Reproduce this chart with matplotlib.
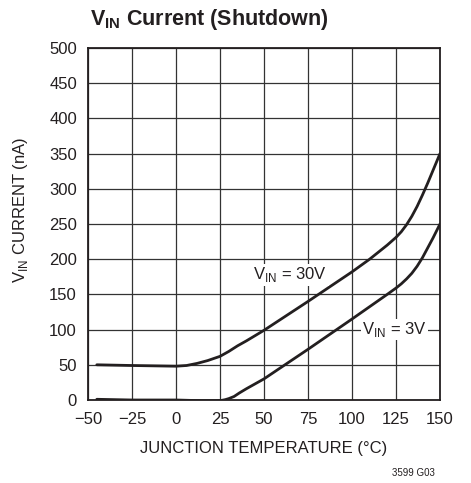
import matplotlib
matplotlib.use("Agg")
import matplotlib.pyplot as plt

plt.rcParams['font.family'] = ['Liberation Sans Narrow', 'Liberation Sans', 'DejaVu Sans']

# junction temperature (C) vs V_IN shutdown current (nA)
t_30v = [-45, -25, 0, 6, 12, 18, 25, 30, 35, 40, 50, 75, 100, 110, 115, 120, 125, 128, 131,
         134, 137, 140, 143, 146, 150]
i_30v = [50, 49, 48, 49, 52, 56, 62, 69, 77, 84, 99, 140, 182, 200, 210, 220, 231, 239, 249,
         261, 275, 291, 308, 326, 350]

t_3v = [-45, -25, 0, 15, 22, 26, 28, 30, 33, 36, 40, 45, 50, 75, 100, 120, 125, 128, 131,
        134, 137, 140, 143, 146, 148, 150]
i_3v = [1, 0, 0, -1, -1, -0.5, 0.5, 2, 5, 10, 16, 23, 30, 72, 115, 150, 159, 165, 172,
        180, 190, 202, 216, 230, 240, 250]

x_ticks = [-50, -25, 0, 25, 50, 75, 100, 125, 150]
x_labels = ['\u221250', '\u221225', '0', '25', '50', '75', '100', '125', '150']
y_ticks = [0, 50, 100, 150, 200, 250, 300, 350, 400, 450, 500]

ink = '#231f20'

fig = plt.figure(figsize=(4.71, 4.83), dpi=100)
ax = fig.add_axes([88 / 471, 1 - 400 / 483, 352 / 471, 352 / 483])

ax.plot(t_30v, i_30v, color=ink, lw=2.0, solid_capstyle='round', zorder=3)
ax.plot(t_3v, i_3v, color=ink, lw=2.0, solid_capstyle='round', zorder=3)

ax.set_xlim(-50, 150)
ax.set_ylim(0, 500)
ax.set_xticks(x_ticks, labels=x_labels)
ax.set_yticks(y_ticks)
ax.tick_params(length=0, labelsize=12, colors=ink)
ax.tick_params(axis='x', pad=9)
ax.tick_params(axis='y', pad=8)
ax.grid(True, color='#333333', lw=0.9)
for s in ax.spines.values():
    s.set_linewidth(1.3)
    s.set_color(ink)

ax.text(65, 178, r'V$_{\mathregular{IN}}$ = 30V', fontsize=12, ha='center', va='center',
        color=ink, bbox=dict(fc='white', ec='none', pad=1), zorder=4)
ax.text(124, 100, r'V$_{\mathregular{IN}}$ = 3V', fontsize=12, ha='center', va='center',
        color=ink, bbox=dict(fc='white', ec='none', pad=1), zorder=4)

ax.set_xlabel('JUNCTION TEMPERATURE (\u00b0C)', fontsize=12, color=ink, labelpad=10)
ax.set_ylabel(r'V$_{\mathregular{IN}}$ CURRENT (nA)', fontsize=12, color=ink)
ax.yaxis.set_label_coords(-58 / 352, (400 - 210) / 352)

fig.text(90 / 471, 1 - 19 / 483, r'V$_{\mathregular{IN}}$ Current (Shutdown)', fontsize=15.5,
         fontweight='bold', ha='left', va='center', color=ink)
fig.text(435 / 471, 1 - 473 / 483, '3599 G03', fontsize=7, ha='right', va='center', color=ink)

fig.savefig('out.png', dpi=100)
